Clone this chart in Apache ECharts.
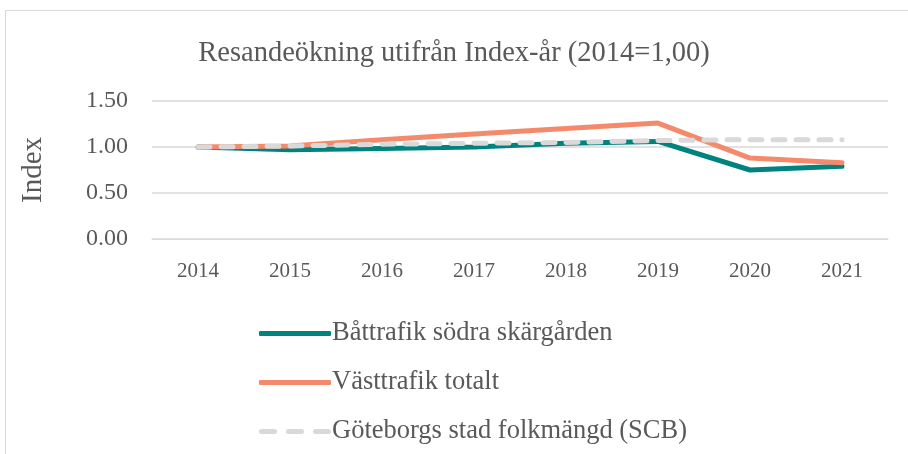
<!DOCTYPE html>
<html>
<head>
<meta charset="utf-8">
<script src="https://cdn.jsdelivr.net/npm/echarts@6/dist/echarts.min.js"></script>
<style>
  html, body { margin: 0; padding: 0; background: #fff; }
  #frame { position: absolute; left: 5px; top: 10px; width: 920px; height: 460px; border: 1px solid #d9d9d9; }
  #chart { position: absolute; left: 0; top: 0; width: 908px; height: 454px; }
</style>
</head>
<body>
<div id="frame"></div>
<div id="chart"></div>
<script>
const years = ['2014', '2015', '2016', '2017', '2018', '2019', '2020', '2021']
const batTrafik = [1.00, 0.97, 0.985, 1.00, 1.04, 1.06, 0.75, 0.79]
const vastTrafik = [1.00, 1.01, 1.08, 1.14, 1.20, 1.26, 0.88, 0.83]
const folkmangd = [1.00, 1.01, 1.03, 1.04, 1.05, 1.07, 1.08, 1.08]

const font = 'Liberation Serif'
const chart = echarts.init(document.getElementById('chart'))

// dashed legend icon (three short bars)
const dashIcon = 'path://M2.5,0h13a2.5,2.5,0,0,1,0,5h-13a2.5,2.5,0,0,1,0,-5z' +
  'M29.5,0h13a2.5,2.5,0,0,1,0,5h-13a2.5,2.5,0,0,1,0,-5z' +
  'M56.5,0h13a2.5,2.5,0,0,1,0,5h-13a2.5,2.5,0,0,1,0,-5z'

const option = {
  animation: false,
  textStyle: { fontFamily: font, color: '#595959' },
  title: {
    text: 'Resandeökning utifrån Index-år (2014=1,00)',
    left: 'center',
    top: 34,
    textStyle: { fontFamily: font, fontSize: 28.5, fontWeight: 'normal', color: '#595959' }
  },
  grid: { left: 152, right: 20, top: 101, height: 138 },
  legend: {
    orient: 'vertical',
    left: 254,
    top: 315,
    itemGap: 22,
    itemWidth: 72,
    itemHeight: 5,
    textStyle: { fontFamily: font, fontSize: 26.5, lineHeight: 26, color: '#595959', padding: [0, 0, 0, -4] },
    data: [
      { name: 'Båttrafik södra skärgården', icon: 'roundRect' },
      { name: 'Västtrafik totalt', icon: 'roundRect' },
      { name: 'Göteborgs stad folkmängd (SCB)', icon: dashIcon }
    ]
  },
  xAxis: {
    type: 'category',
    data: years,
    boundaryGap: true,
    axisLine: { lineStyle: { color: '#d9d9d9' } },
    axisTick: { show: false },
    axisLabel: { fontFamily: font, fontSize: 21, color: '#595959', margin: 22 }
  },
  yAxis: {
    type: 'value',
    min: 0,
    max: 1.5,
    interval: 0.5,
    name: 'Index',
    nameLocation: 'middle',
    nameGap: 104,
    nameTextStyle: { fontFamily: font, fontSize: 29, color: '#595959' },
    axisLabel: { fontFamily: font, fontSize: 24, color: '#595959', margin: 24, formatter: v => v.toFixed(2) },
    splitLine: { lineStyle: { color: '#d9d9d9', width: 1.5 } }
  },
  series: [
    {
      name: 'Båttrafik södra skärgården',
      type: 'line',
      data: batTrafik,
      symbol: 'none',
      z: 2,
      lineStyle: { color: '#00827f', width: 5, cap: 'round' },
      itemStyle: { color: '#00827f' }
    },
    {
      name: 'Västtrafik totalt',
      type: 'line',
      data: vastTrafik,
      symbol: 'none',
      z: 3,
      lineStyle: { color: '#f4896b', width: 5, cap: 'round' },
      itemStyle: { color: '#f4896b' }
    },
    {
      name: 'Göteborgs stad folkmängd (SCB)',
      type: 'line',
      data: folkmangd,
      symbol: 'none',
      z: 4,
      lineStyle: { color: '#d9d9d9', width: 5, type: [12, 11], cap: 'round' },
      itemStyle: { color: '#d9d9d9' }
    }
  ]
}

chart.setOption(option)
</script>
</body>
</html>
